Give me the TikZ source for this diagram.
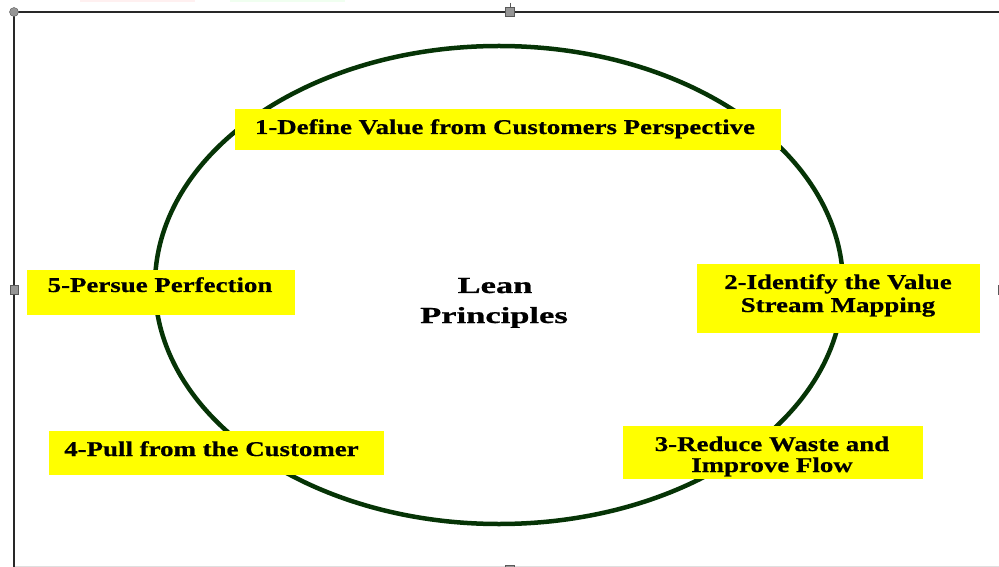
\documentclass[tikz,border=0pt]{standalone}
\usepackage{fontspec}
\usetikzlibrary{shapes.geometric}
\newfontfamily\boxfont[FakeStretch=1.28,FakeBold=0.6]{Liberation Serif Bold}
\newfontfamily\leanfont[FakeStretch=1.5,FakeBold=0.8]{Liberation Serif Bold}
\definecolor{ringgreen}{RGB}{6,52,6}
\definecolor{hyellow}{RGB}{255,255,0}
\definecolor{framegray}{RGB}{40,40,40}
\definecolor{handlegray}{RGB}{150,150,150}
\tikzset{
  ybox/.style={fill=hyellow, draw=none, inner sep=0pt, outer sep=0pt},
  lbl/.style={inner sep=0pt, anchor=base, font=\boxfont\fontsize{21bp}{23bp}\selectfont},
  leanlbl/.style={inner sep=0pt, anchor=base, font=\leanfont\fontsize{23bp}{30bp}\selectfont},
  frameline/.style={draw=framegray, line width=2.2bp},
  handle/.style={fill=handlegray, draw=gray!70!black, line width=0.4bp, inner sep=0pt, outer sep=0pt}
}
\begin{document}
\begin{tikzpicture}[x=1bp, y=-1bp]
\useasboundingbox (0,0) rectangle (999,567);
% faint tab remnants
\fill[red!6] (80,0) rectangle (195,2);
\fill[green!6] (230,0) rectangle (345,2);
% frame
\draw[gray!25, line width=0.8bp] (14,566) -- (999,566);
\draw[frameline] (14,12) -- (999,12);
\draw[frameline] (14,12) -- (14,567);
\draw[gray!70!black, line width=0.8bp] (510,3) -- (510,12);
\node[handle, circle, minimum size=9bp] (hc) at (14,12) {};
\node[handle, rectangle, minimum width=9bp, minimum height=9bp] (ht) at (510,12) {};
\node[handle, rectangle, minimum width=8bp, minimum height=9bp] (hl) at (14,290) {};
\node[handle, rectangle, minimum width=9bp, minimum height=9bp] (hb) at (510,570) {};
\node[handle, rectangle, minimum width=9bp, minimum height=9bp] (hr) at (1003,290) {};
% ring
\node[draw=ringgreen, line width=4.5bp, ellipse, minimum width=688bp, minimum height=478bp, inner sep=0pt] (ring) at (499,285) {};
\node[leanlbl] (lean1) at (495,293) {Lean};
\node[leanlbl] (lean2) at (494,323) {Principles};
% boxes
\node[ybox, minimum width=546bp, minimum height=41bp] (b1) at (508,129.5) {};
\node[lbl] (t1) at (505,134) {1-Define Value from Customers Perspective};
\node[ybox, minimum width=283bp, minimum height=69bp] (b2) at (838.5,298.5) {};
\node[lbl] (t2a) at (838,289) {2-Identify the Value};
\node[lbl] (t2b) at (838,312) {Stream Mapping};
\node[ybox, minimum width=300bp, minimum height=53bp] (b3) at (773,452.5) {};
\begin{scope}
\clip (623,426) rectangle (923,479);
\node[lbl] (t3a) at (772,451) {3-Reduce Waste and};
\node[lbl] (t3b) at (772,472) {Improve Flow};
\end{scope}
\node[ybox, minimum width=335bp, minimum height=44bp] (b4) at (216.5,453) {};
\node[lbl] (t4) at (211.5,456) {4-Pull from the Customer};
\node[ybox, minimum width=268bp, minimum height=45bp] (b5) at (161,292.5) {};
\node[lbl] (t5) at (160,292) {5-Persue Perfection};
\end{tikzpicture}
\end{document}
